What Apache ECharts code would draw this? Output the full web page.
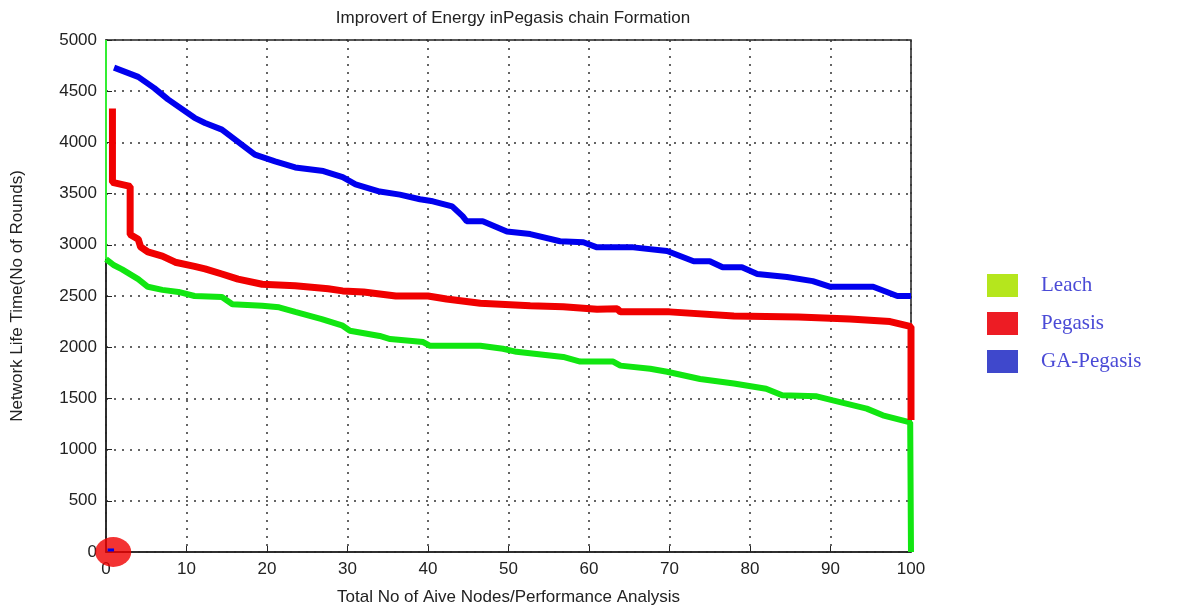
<!DOCTYPE html>
<html>
<head>
<meta charset="utf-8">
<title>Improvert of Energy inPegasis chain Formation</title>
<script src="https://cdn.jsdelivr.net/npm/echarts@6/dist/echarts.min.js"></script>
<style>
  html, body { margin: 0; padding: 0; background: #fff; }
  #chart { width: 1193px; height: 611px; }
</style>
</head>
<body>
<div id="chart"></div>
<script>
// values
const leachEdgeX = [0, 0];
const leachEdgeY = [5000, 2860];
const leachX = [0, 1, 2, 4, 5.2, 7, 9, 11, 14.4, 15.7, 19.4, 21.5, 23.5, 26.8, 29.4, 30.3, 34, 35.3, 39.4, 40.2, 46.5, 49.3, 51, 56.8, 58.9, 63, 63.9, 67.6, 69.7, 73.8, 78, 82, 84, 88.3, 90.3, 94.5, 96.5, 99.9, 100];
const leachY = [2860, 2800, 2760, 2665, 2590, 2560, 2540, 2500, 2490, 2420, 2405, 2390, 2345, 2275, 2210, 2160, 2110, 2080, 2050, 2015, 2015, 1985, 1955, 1905, 1860, 1860, 1820, 1790, 1760, 1690, 1645, 1595, 1530, 1520, 1480, 1400, 1335, 1265, 0];

const pegasisX = [0.8, 0.8, 3, 3, 4, 4.3, 5.2, 7, 8.6, 11, 12.3, 14.4, 16.4, 19.4, 23.5, 27.6, 29.4, 32, 36, 40, 42.3, 46.5, 52.7, 56.8, 61, 63.5, 63.9, 70, 78, 86, 92.4, 97.4, 99.5, 100, 100];
const pegasisY = [4330, 3610, 3570, 3100, 3055, 2980, 2930, 2890, 2830, 2790, 2765, 2715, 2665, 2615, 2600, 2570, 2550, 2540, 2500, 2500, 2470, 2430, 2405, 2395, 2370, 2375, 2345, 2345, 2305, 2295, 2275, 2250, 2210, 2200, 1290];

const gaX = [1, 4, 6, 7.7, 11, 12.3, 14.4, 16, 18.5, 21, 23.5, 27, 29.4, 31, 34, 36.5, 39, 40.6, 43, 44.3, 44.8, 46.8, 49.8, 52.7, 56.4, 59.3, 61, 65.5, 69.7, 73, 75, 76.6, 79, 80.9, 84.6, 87.8, 90, 95.3, 98.3, 100];
const gaY = [4730, 4640, 4530, 4420, 4240, 4190, 4125, 4030, 3880, 3815, 3755, 3720, 3660, 3590, 3520, 3490, 3445, 3425, 3375, 3280, 3230, 3230, 3130, 3105, 3035, 3025, 2975, 2975, 2940, 2840, 2840, 2780, 2780, 2715, 2685, 2645, 2590, 2590, 2500, 2500];

// marks sitting at the origin
const originMarkX = [0.9];
const originMarkY = [0];
const originBlueX = [0.2, 1];
const originBlueY = [20, 20];

const zip = (xs, ys) => xs.map((x, i) => [x, ys[i]]);

const myChart = echarts.init(document.getElementById('chart'));
const axisFont = { fontFamily: 'Liberation Sans, Arial', fontSize: 17, color: '#222' };

const option = {
  backgroundColor: '#fff',
  animation: false,
  title: {
    text: 'Improvert of Energy inPegasis chain Formation',
    left: 508,
    top: 5,
    textAlign: 'center',
    textStyle: { fontFamily: 'Liberation Sans, Arial', fontSize: 17, fontWeight: 'normal', color: '#222' }
  },
  legend: {
    orient: 'vertical',
    left: 982,
    top: 269,
    itemWidth: 31,
    itemHeight: 23,
    itemGap: 15,
    icon: 'rect',
    textStyle: {
      fontFamily: 'Liberation Serif, Times New Roman',
      fontSize: 21,
      color: '#4a4ad6',
      padding: [0, 0, 0, 18]
    },
    data: [
      { name: 'Leach', itemStyle: { color: '#b5e61d' } },
      { name: 'Pegasis', itemStyle: { color: '#ed1c24' } },
      { name: 'GA-Pegasis', itemStyle: { color: '#3f48cc' } }
    ]
  },
  grid: {
    left: 106,
    right: 282,
    top: 40,
    bottom: 57,
    show: true,
    borderColor: '#222',
    borderWidth: 1.5,
    backgroundColor: '#fff'
  },
  xAxis: {
    type: 'value',
    min: 0,
    max: 100,
    interval: 10,
    name: 'Total No of Aive Nodes/Performance Analysis',
    nameLocation: 'middle',
    nameGap: 37,
    nameTextStyle: { fontFamily: 'Liberation Sans, Arial', fontSize: 17, color: '#222' },
    axisLine: { show: true, lineStyle: { color: '#222', width: 1.5 } },
    axisTick: { show: true, inside: true, length: 6, lineStyle: { color: '#222' } },
    axisLabel: Object.assign({ margin: 9, formatter: v => String(v) }, axisFont),
    splitLine: { show: true, lineStyle: { color: '#333', width: 1.5, type: [2, 6] } }
  },
  yAxis: {
    type: 'value',
    min: 0,
    max: 5000,
    interval: 500,
    name: 'Network Life Time(No of Rounds)',
    nameLocation: 'middle',
    nameGap: 80,
    nameTextStyle: { fontFamily: 'Liberation Sans, Arial', fontSize: 17, color: '#222' },
    axisLine: { show: true, lineStyle: { color: '#222', width: 1.5 } },
    axisTick: { show: true, inside: true, length: 6, lineStyle: { color: '#222' } },
    axisLabel: Object.assign({ margin: 9, formatter: v => String(v) }, axisFont),
    splitLine: { show: true, lineStyle: { color: '#333', width: 1.5, type: [2, 6] } }
  },
  series: [
    {
      name: 'leachEdge',
      type: 'line',
      data: zip(leachEdgeX, leachEdgeY),
      symbol: 'none',
      lineStyle: { width: 2, color: '#33ee33' },
      silent: true,
      z: 2
    },
    {
      name: 'Leach',
      type: 'line',
      data: zip(leachX, leachY),
      symbol: 'none',
      color: '#11e611',
      lineStyle: { width: 6, color: '#11e611' },
      z: 2
    },
    {
      name: 'Pegasis',
      type: 'line',
      data: zip(pegasisX, pegasisY),
      symbol: 'none',
      color: '#f00000',
      lineStyle: { width: 7, color: '#f00000' },
      z: 3
    },
    {
      name: 'GA-Pegasis',
      type: 'line',
      data: zip(gaX, gaY),
      symbol: 'none',
      color: '#0000ee',
      lineStyle: { width: 6, color: '#0000ee' },
      z: 4
    },
    {
      name: 'origin',
      type: 'scatter',
      data: zip(originMarkX, originMarkY),
      symbol: 'circle',
      symbolSize: [36, 30],
      itemStyle: { color: '#f00000' },
      clip: false,
      silent: true,
      z: 5
    },
    {
      name: 'origin2',
      type: 'line',
      data: zip(originBlueX, originBlueY),
      symbol: 'none',
      lineStyle: { width: 3, color: '#0000ee' },
      clip: false,
      silent: true,
      z: 6
    }
  ]
};

myChart.setOption(option);
</script>
</body>
</html>
